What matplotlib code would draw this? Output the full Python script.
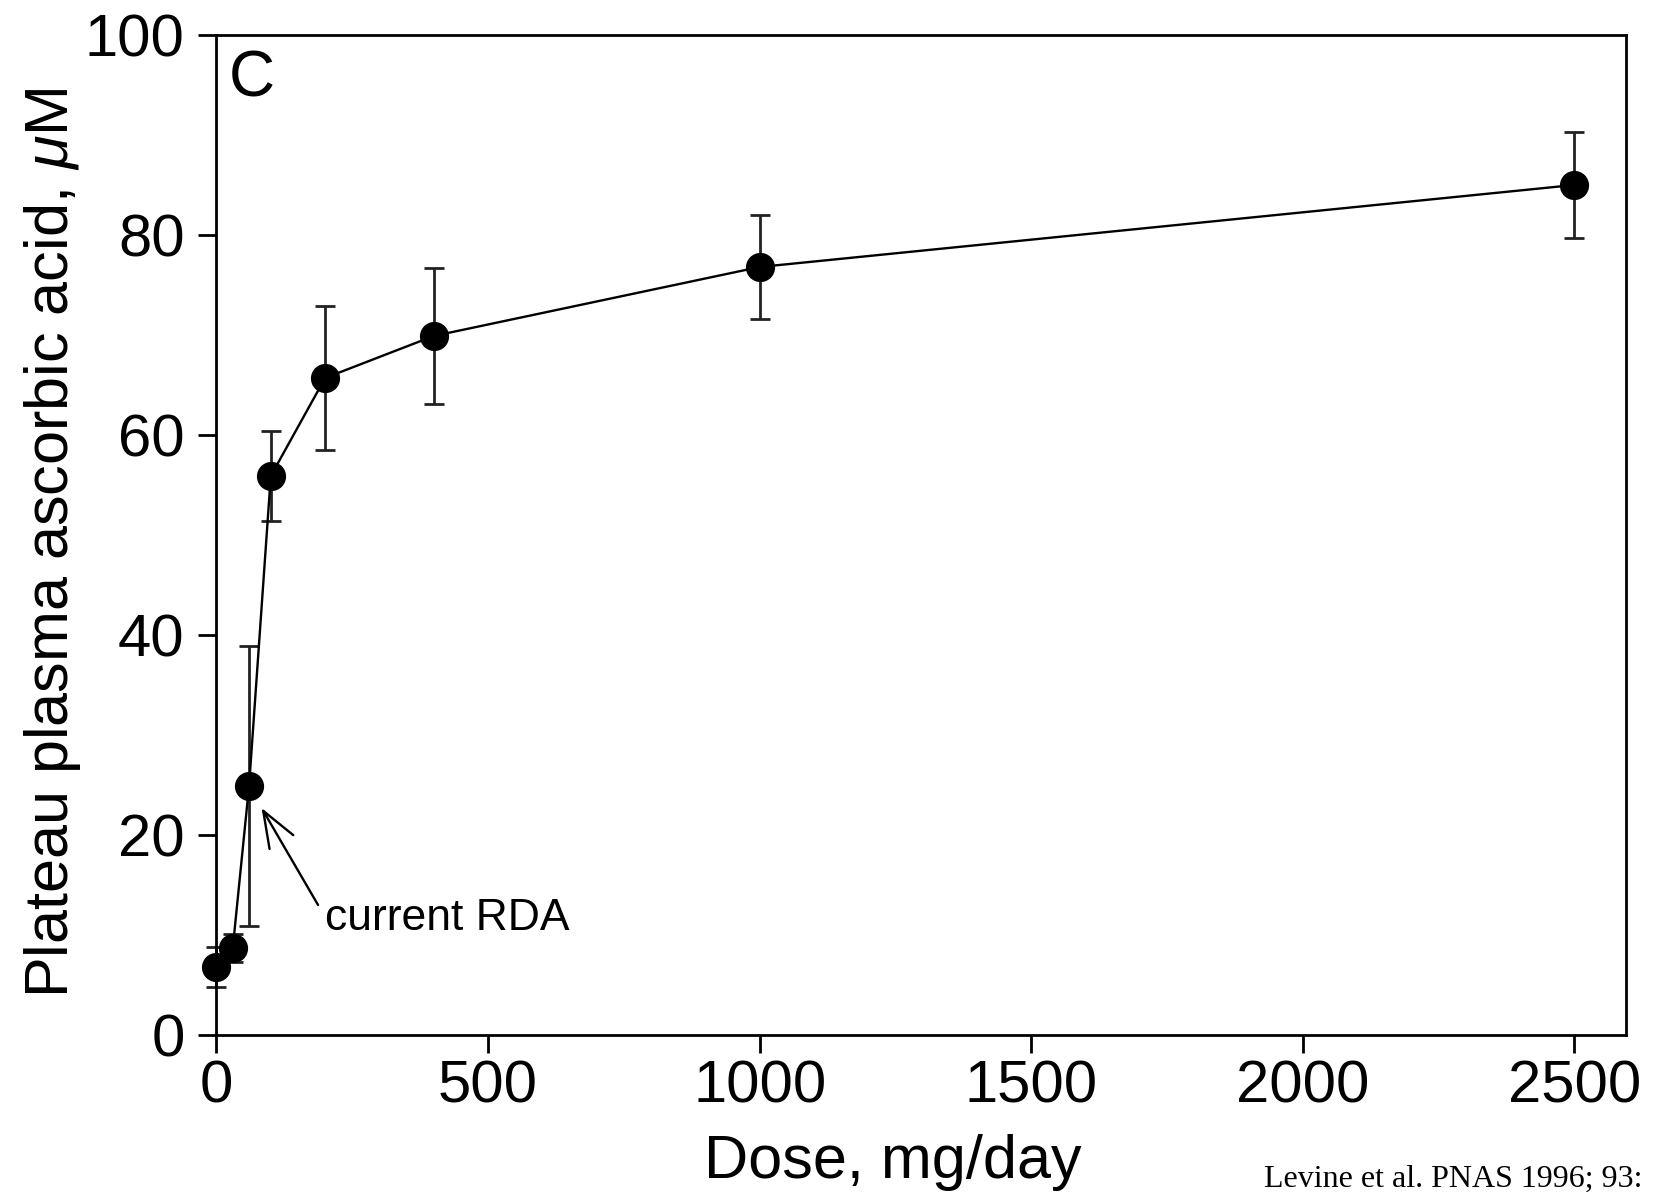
import matplotlib
matplotlib.use('Agg')
import matplotlib.pyplot as plt

# Dose-response data
dose = [0, 30, 60, 100, 200, 400, 1000, 2500]
ascorbate = [6.8, 8.7, 24.9, 55.9, 65.7, 69.9, 76.8, 85.0]
sem = [2.0, 1.4, 14.0, 4.5, 7.2, 6.8, 5.2, 5.3]

x_ticks = [0, 500, 1000, 1500, 2000, 2500]
y_ticks = [0, 20, 40, 60, 80, 100]

plt.rcParams['font.family'] = ['Liberation Sans', 'DejaVu Sans']
plt.rcParams['mathtext.fontset'] = 'custom'
plt.rcParams['mathtext.it'] = 'Liberation Sans:italic'

fig = plt.figure(figsize=(16.55, 11.94), dpi=100)
ax = fig.add_axes([0.1308, 0.1332, 0.8517, 0.8375])

ax.errorbar(dose, ascorbate, yerr=sem, fmt='none', ecolor='#222222',
            elinewidth=2.0, capsize=7, capthick=2.0, clip_on=False, zorder=2)
ax.plot(dose, ascorbate, color='black', lw=1.7, zorder=3, clip_on=False)
ax.plot(dose, ascorbate, 'o', color='black', markersize=20, zorder=4,
        clip_on=False)

ax.set_xlim(0, 2595)
ax.set_ylim(0, 100)
ax.set_xticks(x_ticks)
ax.set_yticks(y_ticks)

for sp in ax.spines.values():
    sp.set_linewidth(2.0)

ax.tick_params(axis='both', direction='out', width=2.0, labelsize=43)
ax.tick_params(axis='x', length=13, pad=5)
ax.tick_params(axis='y', length=13, pad=10)

ax.set_xlabel('Dose, mg/day', fontsize=44)
ax.xaxis.set_label_coords(0.48, -0.099)
ax.set_ylabel(r'Plateau plasma ascorbic acid, $\mathit{\mu}$M', fontsize=44)
ax.yaxis.set_label_coords(-0.095, 0.492)

# panel letter
ax.text(0.009, 0.985, 'C', transform=ax.transAxes, fontsize=46,
        ha='left', va='top')

# RDA annotation
ax.annotate('', xy=(83, 22.7), xytext=(187, 13.0),
            arrowprops=dict(arrowstyle='->,head_length=1.0,head_width=0.38',
                            mutation_scale=26, lw=1.7, color='black',
                            shrinkA=0, shrinkB=0))
ax.text(200, 10.5, 'current RDA', fontsize=32, ha='left', va='baseline')

# citation at the bottom right
fig.text(0.764, 0.006, 'Levine et al. PNAS 1996; 93:',
         fontsize=23, family='Liberation Serif', ha='left', va='baseline')

fig.savefig('out.png', dpi=100)
